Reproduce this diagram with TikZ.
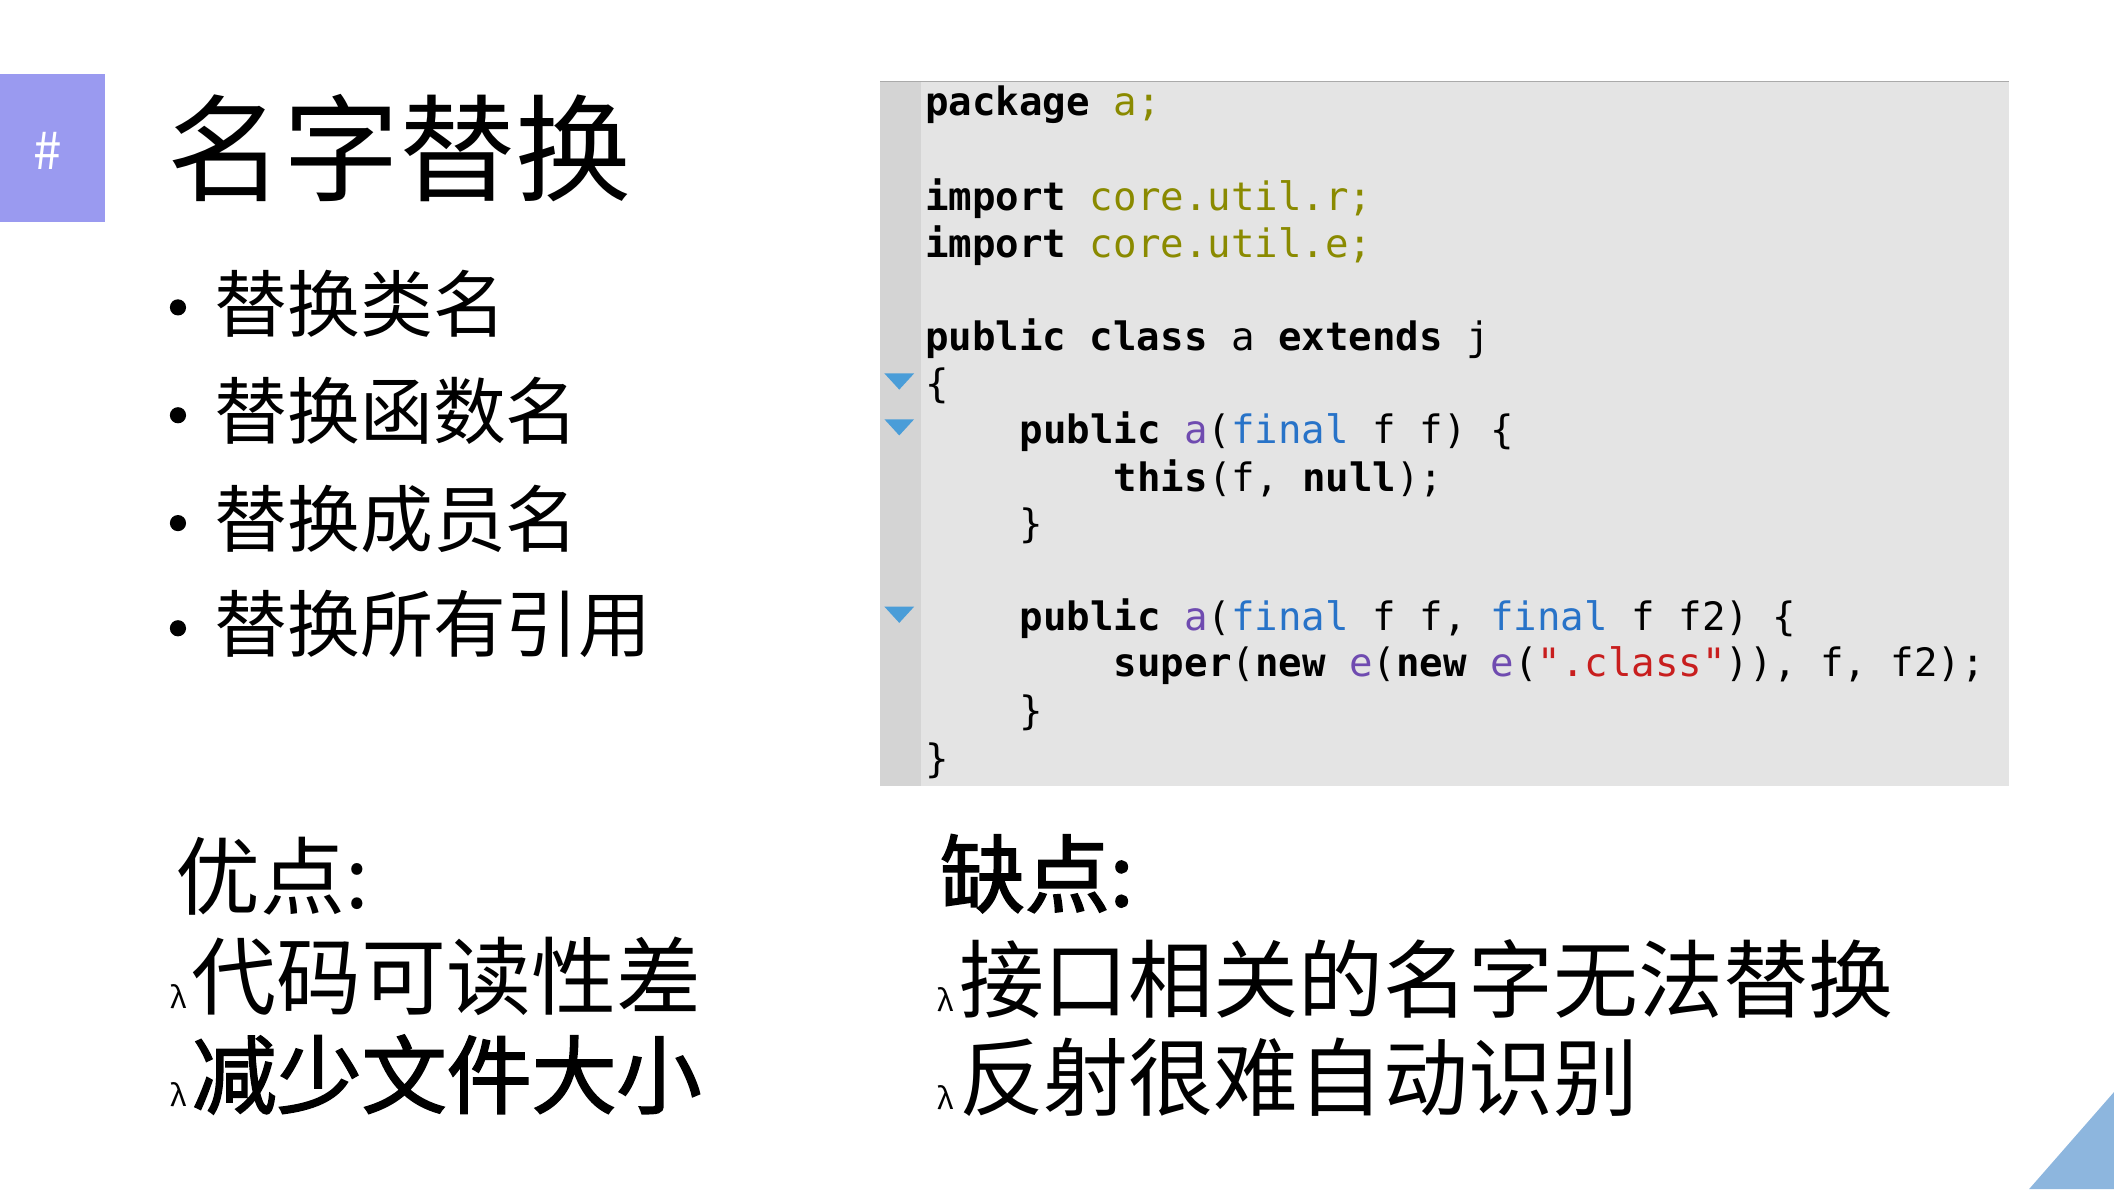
\documentclass[tikz,border=0pt]{standalone}
\usepackage{fontspec}
\setmainfont{Noto Sans CJK SC}
\newfontfamily\cjkbold[FakeBold=2]{Noto Sans CJK SC}
\setmonofont{DejaVu Sans Mono}
\definecolor{tagpurple}{HTML}{9A9AF0}
\definecolor{codebg}{HTML}{E4E4E4}
\definecolor{gutter}{HTML}{D4D4D4}
\definecolor{olive}{HTML}{8A8A00}
\definecolor{idpurple}{HTML}{6F4BB0}
\definecolor{kwblue}{HTML}{2873C8}
\definecolor{strred}{HTML}{C81E1E}
\definecolor{fold}{HTML}{4A9DD8}
\definecolor{corner}{HTML}{8DB6DE}
\newcommand{\kw}[1]{\textbf{#1}}
\newcommand{\lam}{{\fontsize{22}{22}\selectfont λ}\hspace{4pt}}
\begin{document}
\begin{tikzpicture}[x=1pt,y=-1pt,
  txt/.style={anchor=west,inner sep=0pt},
  code/.style={anchor=west,inner sep=0pt,font=\fontsize{29}{29}\selectfont\ttfamily},
  bul/.style={anchor=west,inner sep=0pt,font=\fontsize{54}{54}\selectfont},
  big/.style={anchor=west,inner sep=0pt,font=\fontsize{63}{63}\selectfont},
  foldmark/.style={fill=fold}]
\useasboundingbox[fill=white] (0,0) rectangle (1568,882);
% tag
\fill[tagpurple] (0,55) rectangle (78,165);
\node[txt,text=white,font=\fontsize{38}{38}\selectfont] (hash) at (25,112) {\#};
\node[txt,font=\fontsize{86}{86}\selectfont] (title) at (124,110) {名字替换};
% bullets
\foreach \y/\t [count=\i] in {225/替换类名,305/替换函数名,385/替换成员名,463/替换所有引用}{
  \fill (132,\y+3) circle (6);
  \node[bul] (b\i) at (159,\y) {\t};
}
% code box
\fill[codebg] (653,60) rectangle (1490,583);
\fill[gutter] (653,60) rectangle (683,583);
\draw[gutter!80!black,line width=0.8pt] (653,60.5) -- (1490,60.5);
\foreach \y [count=\i] in {284,318,457}{
  \fill[foldmark] (656,\y-7) -- (678,\y-7) -- (667,\y+5) -- cycle;
}
\begin{scope}[yshift=-2pt]
\node[code] (l1) at (686,76) {\kw{package} \textcolor{olive}{a;}};
\node[code] (l2) at (686,145) {\kw{import} \textcolor{olive}{core.util.r;}};
\node[code] (l3) at (686,180) {\kw{import} \textcolor{olive}{core.util.e;}};
\node[code] (l4) at (686,249) {\kw{public} \kw{class} a \kw{extends} j};
\node[code] (l5) at (686,284) {\{};
\node[code] (l6) at (756,318) {\kw{public} \textcolor{idpurple}{a}(\textcolor{kwblue}{final} f f) \{};
\node[code] (l7) at (826,353) {\kw{this}(f, \kw{null});};
\node[code] (l8) at (756,388) {\}};
\node[code] (l9) at (756,457) {\kw{public} \textcolor{idpurple}{a}(\textcolor{kwblue}{final} f f, \textcolor{kwblue}{final} f f2) \{};
\node[code] (l10) at (826,492) {\kw{super}(\kw{new} \textcolor{idpurple}{e}(\kw{new} \textcolor{idpurple}{e}(\textcolor{strred}{".class"})), f, f2);};
\node[code] (l11) at (756,527) {\}};
\node[code] (l12) at (686,562) {\}};
\end{scope}
% pros / cons
\node[big] (pros) at (130,650) {优点:};
\node[big,anchor=base west] (p1) at (126,748) {\lam 代码可读性差};
\node[big,anchor=base west] (p2) at (126,821) {\lam{\cjkbold 减少文件大小}};
\node[big] (cons) at (697,648) {\cjkbold 缺点:};
\node[big,anchor=base west] (c1) at (695,750) {\lam 接口相关的名字无法替换};
\node[big,anchor=base west] (c2) at (695,823) {\lam 反射很难自动识别};
% corner
\fill[corner] (1505,882) -- (1568,810) -- (1568,882) -- cycle;
\end{tikzpicture}
\end{document}
